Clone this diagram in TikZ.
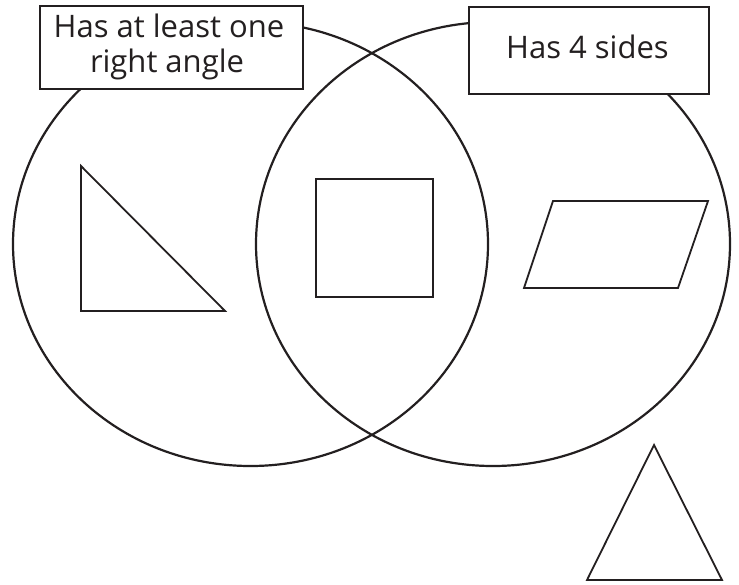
\documentclass[tikz,border=0pt]{standalone}
\usepackage{fontspec}
\setmainfont{Open Sans}
\definecolor{ink}{RGB}{35,31,32}
\begin{document}
\begin{tikzpicture}[x=1pt,y=-1pt,
  venn/.style={draw=ink,line width=2.2pt},
  figure/.style={draw=ink,line width=1.8pt,line join=miter},
  labelbox/.style={draw=ink,fill=white,line width=2.2pt,inner sep=0pt},
  labeltext/.style={anchor=base,inner sep=0pt,text=ink,font=\fontsize{31}{36}\selectfont}]
\useasboundingbox (0,0) rectangle (739,584);
\draw[venn] (250.5,244) ellipse [x radius=237.5, y radius=222];
\draw[venn] (493,244) ellipse [x radius=237, y radius=222];
\node[labelbox,anchor=north west,minimum width=263pt,minimum height=83pt] (leftbox) at (39,5) {};
\node[labelbox,anchor=north west,minimum width=240pt,minimum height=87pt] (rightbox) at (468,6) {};
\node[labeltext] (lefttop) at (169,37) {Has at least one};
\node[labeltext] (leftbottom) at (167,72) {right angle};
\node[labeltext] (righttext) at (587.5,58) {Has 4 sides};
\draw[figure] (81,166) -- (81,311) -- (225,311) -- cycle;
\draw[figure] (316,179) rectangle (433,297);
\draw[figure] (553,201) -- (708,201) -- (678,288) -- (524,288) -- cycle;
\draw[figure] (654,445) -- (587,580) -- (722,580) -- cycle;
\end{tikzpicture}
\end{document}
